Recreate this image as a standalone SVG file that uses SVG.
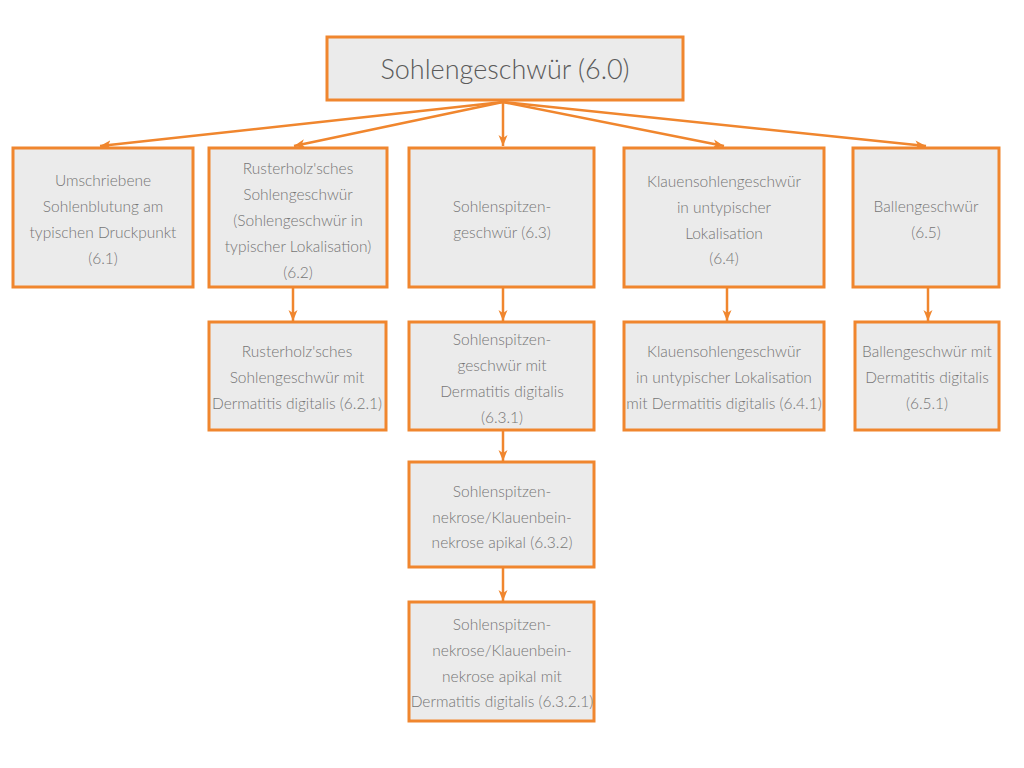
<svg xmlns="http://www.w3.org/2000/svg" width="1024" height="768" viewBox="0 0 1024 768">
<defs>
<marker id="ah" markerUnits="userSpaceOnUse" markerWidth="12" markerHeight="10" refX="11" refY="5" orient="auto">
<path d="M0,0.5 L11,5 L0,9.5 L3,5 Z" fill="#F0862E"/>
</marker>
<style>
.box{fill:#EBEBEB;stroke:#F0862E;stroke-width:3}
.t{font-family:"Lato","Open Sans","Liberation Sans",sans-serif;font-weight:300;font-size:15.5px;fill:#757575;text-anchor:middle}
.root{font-size:27px;fill:#5a5a5a}
.c{stroke:#F0862E;stroke-width:2.5;fill:none;marker-end:url(#ah)}
</style>
</defs>
<rect width="1024" height="768" fill="#ffffff"/>
<g id="connectors">
<line class="c" x1="503" y1="102" x2="100" y2="146"/>
<line class="c" x1="503" y1="102" x2="294" y2="146"/>
<line class="c" x1="503" y1="102" x2="503" y2="146"/>
<line class="c" x1="503" y1="102" x2="724" y2="146"/>
<line class="c" x1="503" y1="102" x2="926" y2="146"/>
<line class="c" x1="293" y1="288" x2="293" y2="321"/>
<line class="c" x1="503" y1="288" x2="503" y2="321"/>
<line class="c" x1="727" y1="288" x2="727" y2="321"/>
<line class="c" x1="928" y1="288" x2="928" y2="321"/>
<line class="c" x1="503" y1="431" x2="503" y2="461"/>
<line class="c" x1="503" y1="568" x2="503" y2="601"/>
</g>
<g id="n60">
<rect class="box" x="327" y="37" width="356" height="63"/>
<text class="t root" x="505" y="79">Sohlengeschwür (6.0)</text>
</g>
<g id="n61">
<rect class="box" x="13" y="148" width="180" height="139"/>
<text class="t" x="103"><tspan x="103" y="186">Umschriebene</tspan><tspan x="103" y="212">Sohlenblutung am</tspan><tspan x="103" y="238">typischen Druckpunkt</tspan><tspan x="103" y="264">(6.1)</tspan></text>
</g>
<g id="n62">
<rect class="box" x="209" y="148" width="178" height="139"/>
<text class="t" x="298"><tspan x="298" y="174">Rusterholz'sches</tspan><tspan x="298" y="200">Sohlengeschwür</tspan><tspan x="298" y="226">(Sohlengeschwür in</tspan><tspan x="298" y="252">typischer Lokalisation)</tspan><tspan x="298" y="278">(6.2)</tspan></text>
</g>
<g id="n63">
<rect class="box" x="409" y="148" width="185" height="139"/>
<text class="t" x="502"><tspan x="502" y="212">Sohlenspitzen-</tspan><tspan x="502" y="238">geschwür (6.3)</tspan></text>
</g>
<g id="n64">
<rect class="box" x="624" y="148" width="200" height="139"/>
<text class="t" x="724"><tspan x="724" y="187">Klauensohlengeschwür</tspan><tspan x="724" y="213">in untypischer</tspan><tspan x="724" y="239">Lokalisation</tspan><tspan x="724" y="264">(6.4)</tspan></text>
</g>
<g id="n65">
<rect class="box" x="853" y="148" width="146" height="139"/>
<text class="t" x="926"><tspan x="926" y="212">Ballengeschwür</tspan><tspan x="926" y="238">(6.5)</tspan></text>
</g>
<g id="n621">
<rect class="box" x="209" y="322" width="177" height="108"/>
<text class="t" x="297"><tspan x="297" y="357">Rusterholz'sches</tspan><tspan x="297" y="383">Sohlengeschwür mit</tspan><tspan x="297" y="409">Dermatitis digitalis (6.2.1)</tspan></text>
</g>
<g id="n631">
<rect class="box" x="409" y="322" width="185" height="108"/>
<text class="t" x="502"><tspan x="502" y="345">Sohlenspitzen-</tspan><tspan x="502" y="371">geschwür mit</tspan><tspan x="502" y="397">Dermatitis digitalis</tspan><tspan x="502" y="423">(6.3.1)</tspan></text>
</g>
<g id="n641">
<rect class="box" x="624" y="322" width="200" height="108"/>
<text class="t" x="724"><tspan x="724" y="357">Klauensohlengeschwür</tspan><tspan x="724" y="383">in untypischer Lokalisation</tspan><tspan x="724" y="409">mit Dermatitis digitalis (6.4.1)</tspan></text>
</g>
<g id="n651">
<rect class="box" x="855" y="322" width="144" height="108"/>
<text class="t" x="927"><tspan x="927" y="357">Ballengeschwür mit</tspan><tspan x="927" y="383">Dermatitis digitalis</tspan><tspan x="927" y="409">(6.5.1)</tspan></text>
</g>
<g id="n632">
<rect class="box" x="409" y="462" width="185" height="105"/>
<text class="t" x="502"><tspan x="502" y="497">Sohlenspitzen-</tspan><tspan x="502" y="523">nekrose/Klauenbein-</tspan><tspan x="502" y="548">nekrose apikal (6.3.2)</tspan></text>
</g>
<g id="n6321">
<rect class="box" x="409" y="602" width="185" height="119"/>
<text class="t" x="502"><tspan x="502" y="630">Sohlenspitzen-</tspan><tspan x="502" y="656">nekrose/Klauenbein-</tspan><tspan x="502" y="682">nekrose apikal mit</tspan><tspan x="502" y="707">Dermatitis digitalis (6.3.2.1)</tspan></text>
</g>
</svg>
